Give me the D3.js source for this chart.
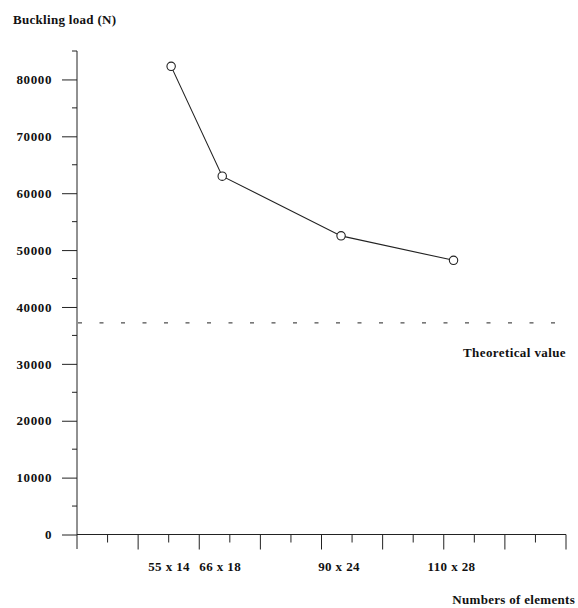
<!DOCTYPE html>
<html>
<head>
<meta charset="utf-8">
<script src="https://cdn.jsdelivr.net/npm/d3@7"></script>
<style>
  html, body { margin: 0; padding: 0; background: #fff; }
  svg text { font-family: "Liberation Serif", "Times New Roman", serif; font-weight: bold; fill: #111; }
</style>
</head>
<body>
<svg id="chart" width="578" height="608"></svg>
<script>
// Mesh sizes and the buckling load computed for each
const meshLabels = ["55 x 14", "66 x 18", "90 x 24", "110 x 28"];
const elementCounts = [770, 1188, 2160, 3080];
const bucklingLoads = [82300, 63000, 52500, 48200];
const theoreticalLoad = 37200;
const yTickValues = [0, 10000, 20000, 30000, 40000, 50000, 60000, 70000, 80000];

const svg = d3.select("#chart");
const ink = "#222";

const x = d3.scaleLinear().domain([0, 4000]).range([77, 566]);
const y = d3.scaleLinear().domain([0, 85000]).range([534.5, 51]);

// Y axis: long labelled ticks every 10000, short ones in between
const yAxis = svg.append("g").attr("transform", `translate(${x(0)},0)`);
yAxis.append("line")
  .attr("x1", 0).attr("x2", 0)
  .attr("y1", y(85000)).attr("y2", 549)
  .attr("stroke", ink).attr("stroke-width", 1);
yAxis.call(
  d3.axisLeft(y).tickValues(yTickValues).tickSize(15).tickPadding(10).tickFormat(d3.format("d"))
).call(g => g.select(".domain").remove());
yAxis.selectAll(".tick line").attr("stroke", ink);
yAxis.selectAll(".tick text")
  .attr("font-size", 13).attr("letter-spacing", "0.6px").attr("fill", "#111");
yAxis.selectAll(".minor")
  .data(d3.range(5000, 85001, 10000))
  .join("line")
  .attr("x1", -5).attr("x2", 0)
  .attr("y1", d => y(d)).attr("y2", d => y(d))
  .attr("stroke", ink);

// X axis: number of elements, long ticks every 500, short ticks every 250
const xAxis = svg.append("g").attr("transform", `translate(0,${y(0)})`);
xAxis.append("line")
  .attr("x1", x(0)).attr("x2", x(4000))
  .attr("y1", 0).attr("y2", 0)
  .attr("stroke", ink);
xAxis.selectAll(".major")
  .data(d3.range(500, 4001, 500))
  .join("line")
  .attr("x1", d => x(d)).attr("x2", d => x(d))
  .attr("y1", 0).attr("y2", 15)
  .attr("stroke", ink);
xAxis.selectAll(".minorx")
  .data(d3.range(250, 4000, 500))
  .join("line")
  .attr("x1", d => x(d)).attr("x2", d => x(d))
  .attr("y1", 0).attr("y2", 8)
  .attr("stroke", ink);

// Mesh labels under the axis
svg.append("g").selectAll("text")
  .data(meshLabels)
  .join("text")
  .attr("x", (d, i) => x(elementCounts[i]) - 2)
  .attr("y", 571)
  .attr("text-anchor", "middle")
  .attr("font-size", 13)
  .attr("letter-spacing", "0.4px")
  .text(d => d);

// Theoretical value as a dashed horizontal line
svg.append("line")
  .attr("x1", x(0) + 1).attr("x2", x(4000))
  .attr("y1", y(theoreticalLoad)).attr("y2", y(theoreticalLoad))
  .attr("stroke", ink)
  .attr("stroke-dasharray", "4,17.5");
svg.append("text")
  .attr("x", 566).attr("y", 357)
  .attr("text-anchor", "end")
  .attr("font-size", 13)
  .attr("letter-spacing", "0.4px")
  .text("Theoretical value");

// Computed loads
const pts = elementCounts.map((c, i) => [c, bucklingLoads[i]]);
svg.append("path")
  .datum(pts)
  .attr("fill", "none")
  .attr("stroke", ink)
  .attr("stroke-width", 1.1)
  .attr("d", d3.line().x(d => x(d[0])).y(d => y(d[1])));
svg.append("g").selectAll("circle")
  .data(pts)
  .join("circle")
  .attr("cx", d => x(d[0]))
  .attr("cy", d => y(d[1]))
  .attr("r", 4.2)
  .attr("fill", "#fff")
  .attr("stroke", ink)
  .attr("stroke-width", 1.1);

// Axis titles
svg.append("text")
  .attr("x", 13).attr("y", 24)
  .attr("font-size", 13)
  .attr("letter-spacing", "0.3px")
  .text("Buckling load (N)");
svg.append("text")
  .attr("x", 575).attr("y", 604)
  .attr("text-anchor", "end")
  .attr("font-size", 13)
  .attr("letter-spacing", "0.3px")
  .text("Numbers of elements");
</script>
</body>
</html>
